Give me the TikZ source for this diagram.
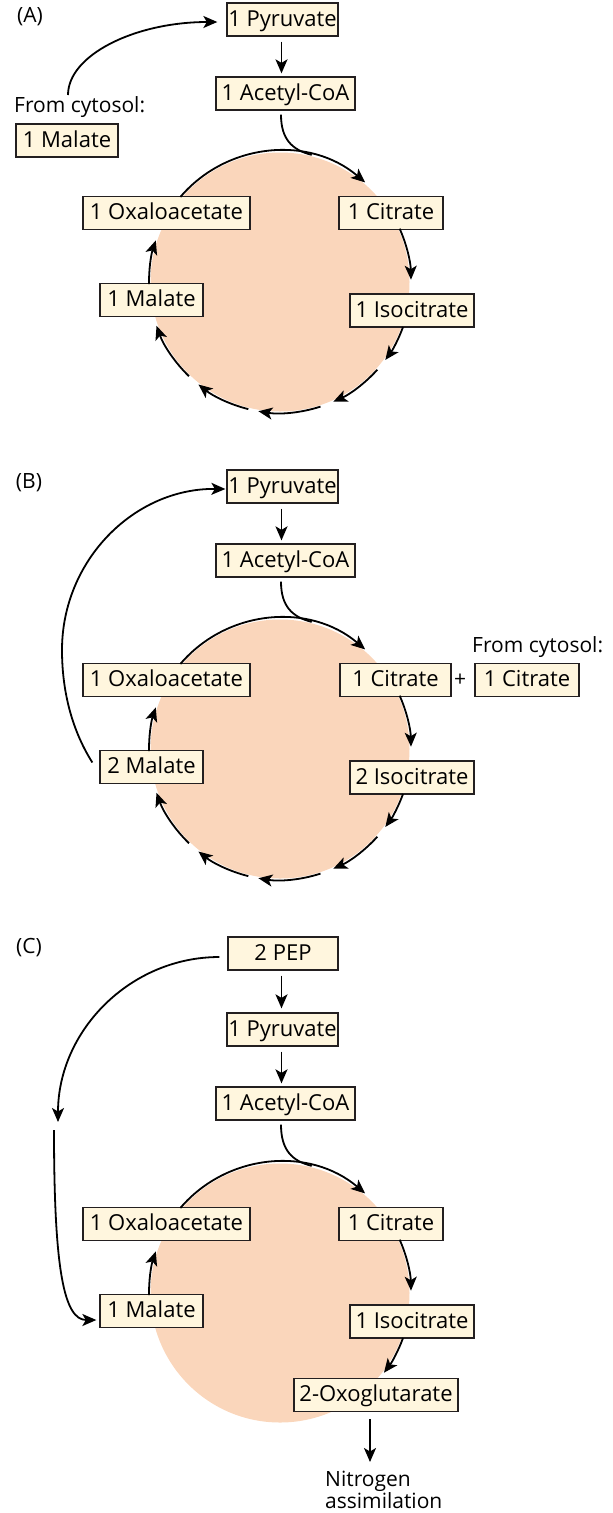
\documentclass[tikz,border=0pt]{standalone}
\usepackage{fontspec}
\setmainfont{Open Sans}
\usetikzlibrary{arrows.meta,calc}
\definecolor{boxfill}{RGB}{255,246,222}
\definecolor{cyclefill}{RGB}{250,214,187}
\definecolor{ink}{RGB}{35,31,32}

\tikzset{
  x=1pt,y=1pt,
  met/.style={draw=ink, fill=boxfill, line width=1.3pt,
    font=\fontsize{22}{26}\selectfont, minimum height=33pt,
    inner xsep=0pt, inner ysep=0pt, text height=17.5pt, text depth=4pt},
  lbl/.style={font=\fontsize{21}{22}\selectfont, inner sep=0pt},
  paneltag/.style={font=\fontsize{21}{24}\selectfont, inner sep=0pt},
  arr/.style={line width=1.8pt, draw=black,
    -{Stealth[length=14pt,width=12pt,inset=3.5pt]}},
  link/.style={line width=1.8pt, draw=black},
}
% one step of the cycle: arc on the ring around centre #1 from angle #2 to #3
\newcommand{\ringstep}[3]{%
  \draw[arr] ($(#1)+(#2:131)$) arc[start angle=#2, end angle=#3, radius=131];}

\begin{document}
\begin{tikzpicture}
\useasboundingbox (0,0) rectangle (613,-1513);

% ================= (A) =================
\begin{scope}
  \coordinate (a-c) at (280,-282);
  \fill[cyclefill] (a-c) circle[radius=129.5];
  \node[paneltag] (a-tag) at (30,-17) {(A)};
  \node[met,minimum width=111pt] (a-pyr) at (282.5,-19.5) {1 Pyruvate};
  \node[met,minimum width=139pt] (a-acoa) at (285.5,-93.5) {1 Acetyl-CoA};
  \node[lbl,anchor=west] (a-from) at (14,-107.5) {From cytosol:};
  \node[met,minimum width=102pt] (a-mal0) at (67,-140.5) {1 Malate};
  \node[met,minimum width=167pt] (a-oaa) at (166.5,-213) {1 Oxaloacetate};
  \node[met,minimum width=104pt] (a-cit) at (391,-213) {1 Citrate};
  \node[met,minimum width=103pt] (a-mal) at (151.5,-300) {1 Malate};
  \node[met,minimum width=124pt] (a-icit) at (412,-310.5) {1 Isocitrate};

  \draw[arr] ($(a-from.west)+(54,12.5)$) .. controls (68,-55) and (135,-22) .. ([xshift=-9pt,yshift=-2.5pt]a-pyr.west);
  \draw[arr,shorten <=5pt,shorten >=3pt] ([xshift=-1pt]a-pyr.south) -- ([xshift=-4pt]a-acoa.north);
  \draw[link] ([xshift=-4.5pt,yshift=-4pt]a-acoa.south) .. controls (281,-139) and (292,-150) .. ($(a-c)+(76:131)$);

  \ringstep{a-c}{139.5}{49.5}
  \ringstep{a-c}{24}{1}
  \ringstep{a-c}{-20.1}{-36.5}
  \ringstep{a-c}{-42}{-66}
  \ringstep{a-c}{-72}{-99.5}
  \ringstep{a-c}{-104}{-128.5}
  \ringstep{a-c}{-134}{-160.5}
  \ringstep{a-c}{-179.1}{-198.5}
\end{scope}

% ================= (B) =================
\begin{scope}[yshift=-467pt]
  \coordinate (b-c) at (280,-282);
  \fill[cyclefill] (b-c) circle[radius=129.5];
  \node[paneltag] (b-tag) at (29,-16) {(B)};
  \node[met,minimum width=111pt] (b-pyr) at (282.5,-19.5) {1 Pyruvate};
  \node[met,minimum width=139pt] (b-acoa) at (285.5,-93.5) {1 Acetyl-CoA};
  \node[met,minimum width=167pt] (b-oaa) at (166.5,-213) {1 Oxaloacetate};
  \node[met,minimum width=111pt] (b-cit) at (395.5,-213) {1 Citrate};
  \node[lbl] (b-plus) at (460,-213) {+};
  \node[met,minimum width=104pt] (b-cit0) at (527,-213) {1 Citrate};
  \node[lbl,anchor=west] (b-from) at (472,-180.5) {From cytosol:};
  \node[met,minimum width=103pt] (b-mal) at (151.5,-300) {2 Malate};
  \node[met,minimum width=124pt] (b-icit) at (412,-310.5) {2 Isocitrate};

  \draw[arr] ([xshift=-7pt,yshift=4.5pt]b-mal.west) .. controls (70,-260) and (62,-220) .. (62,-183)
             .. controls (62,-93.5) and (134,-21) .. ([xshift=-1pt,yshift=-2.5pt]b-pyr.west);
  \draw[arr,shorten <=5pt,shorten >=3pt] ([xshift=-1pt]b-pyr.south) -- ([xshift=-4pt]b-acoa.north);
  \draw[link] ([xshift=-4.5pt,yshift=-4pt]b-acoa.south) .. controls (281,-139) and (292,-150) .. ($(b-c)+(76:131)$);

  \ringstep{b-c}{139.5}{49.5}
  \ringstep{b-c}{24}{1}
  \ringstep{b-c}{-20.1}{-36.5}
  \ringstep{b-c}{-42}{-66}
  \ringstep{b-c}{-72}{-99.5}
  \ringstep{b-c}{-104}{-128.5}
  \ringstep{b-c}{-134}{-160.5}
  \ringstep{b-c}{-179.1}{-198.5}
\end{scope}

% ================= (C) =================
\begin{scope}[yshift=-1011pt]
  \coordinate (c-c) at (280,-282);
  \fill[cyclefill] (c-c) circle[radius=129.5];
  \node[paneltag] (c-tag) at (29,63) {(C)};
  \node[met,minimum width=110pt] (c-pep) at (283,57.5) {2 PEP};
  \node[met,minimum width=111pt] (c-pyr) at (282.5,-18.5) {1 Pyruvate};
  \node[met,minimum width=139pt] (c-acoa) at (285.5,-92.5) {1 Acetyl-CoA};
  \node[met,minimum width=167pt] (c-oaa) at (166.5,-213) {1 Oxaloacetate};
  \node[met,minimum width=104pt] (c-cit) at (391,-213) {1 Citrate};
  \node[met,minimum width=103pt] (c-mal) at (151.5,-300) {1 Malate};
  \node[met,minimum width=124pt] (c-icit) at (412,-310.5) {1 Isocitrate};
  \node[met,minimum width=164pt] (c-oxo) at (376,-384) {2-Oxoglutarate};
  \node[lbl,anchor=north west,align=left] (c-nit) at (325,-460) {Nitrogen\\assimilation};

  \coordinate (c-l1) at (58,-111);
  \coordinate (c-l2) at (54,-119);
  \draw[arr] ([xshift=-8pt,yshift=-3.5pt]c-pep.west) .. controls (130,54) and (58,-20) .. (c-l1);
  \draw[arr] (c-l2) .. controls (54,-259) and (64,-309) .. ([xshift=-3pt,yshift=-9pt]c-mal.west);

  \draw[arr,shorten <=5pt,shorten >=4pt] ([xshift=-1.5pt]c-pep.south) -- ([xshift=-1pt]c-pyr.north);
  \draw[arr,shorten <=5pt,shorten >=3pt] ([xshift=-1pt]c-pyr.south) -- ([xshift=-4pt]c-acoa.north);
  \draw[link] ([xshift=-4.5pt,yshift=-4pt]c-acoa.south) .. controls (281,-139) and (292,-150) .. ($(c-c)+(76:131)$);

  \ringstep{c-c}{139.5}{49.5}
  \ringstep{c-c}{24}{1}
  \ringstep{c-c}{-20.1}{-37.5}
  \ringstep{c-c}{-179.1}{-198.5}

  \draw[arr,shorten <=7pt,shorten >=9pt] ([xshift=-6pt]c-oxo.south) -- ([xshift=-6pt]c-oxo.south |- c-nit.north);
\end{scope}
\end{tikzpicture}
\end{document}
